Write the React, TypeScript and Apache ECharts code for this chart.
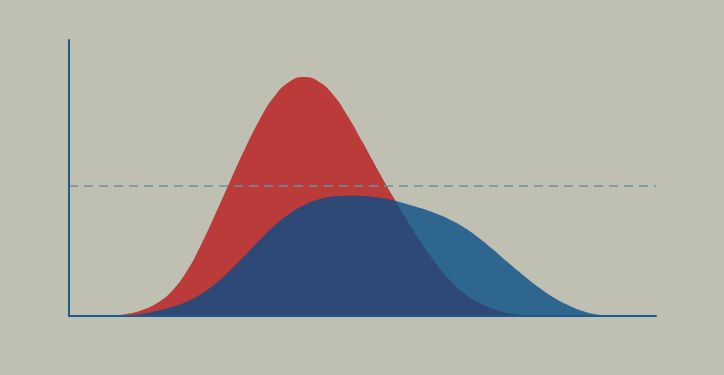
import React, { useEffect, useRef } from "react";
import * as echarts from "echarts";

// Red distribution: x positions and heights
const redX = [7.5, 10, 12.5, 15, 17.5, 20, 22.5, 25, 27.5, 30, 32.5, 35, 37.5, 40, 42.5, 45, 47.5, 50, 52.5, 55, 57.5, 60, 62.5, 65, 67.5, 70, 72.5, 75, 77.5, 80];
const redY = [0, 0.8, 2.2, 4.7, 9.0, 16.0, 25.8, 37.2, 49.1, 60.7, 71.2, 79.6, 84.8, 86.6, 85.0, 80.2, 72.4, 63.0, 53.3, 44.0, 35.0, 26.6, 19.0, 12.7, 7.9, 4.6, 2.4, 1.0, 0.3, 0];

// Blue distribution
const blueX = [7.5, 10, 12.5, 15, 17.5, 20, 22.5, 25, 27.5, 30, 32.5, 35, 37.5, 40, 42.5, 45, 47.5, 50, 52.5, 55, 57.5, 60, 62.5, 65, 67.5, 70, 72.5, 75, 77.5, 80, 82.5, 85, 87.5, 90, 92.5];
const blueY = [0, 0.2, 0.8, 1.9, 3.3, 5.2, 8.0, 11.8, 16.6, 22.0, 27.6, 32.8, 37.0, 40.1, 42.2, 43.3, 43.6, 43.5, 43.0, 42.0, 40.6, 39.0, 37.1, 34.8, 31.8, 28.0, 23.6, 19.0, 14.6, 10.4, 6.8, 4.0, 1.8, 0.5, 0];

const refLine = 47.1;

export default function App() {
  const ref = useRef<HTMLDivElement>(null);
  useEffect(() => {
    document.body.style.margin = "0";
    document.body.style.background = "#bfc0b2";
    const chart = echarts.init(ref.current!, null, { renderer: "svg" });
    const redData = redX.map((x, i) => [x, redY[i]]);
    const blueData = blueX.map((x, i) => [x, blueY[i]]);
    chart.setOption({
      animation: false,
      backgroundColor: "#bfc0b2",
      grid: { left: 69, right: 68, top: 40, bottom: 59 },
      xAxis: {
        type: "value",
        min: 0,
        max: 100,
        z: 10,
        axisLine: { show: true, lineStyle: { color: "#1f5a8e", width: 2 } },
        axisTick: { show: false },
        axisLabel: { show: false },
        splitLine: { show: false },
      },
      yAxis: {
        type: "value",
        min: 0,
        max: 100,
        z: 10,
        axisLine: { show: true, lineStyle: { color: "#1f5a8e", width: 2 } },
        axisTick: { show: false },
        axisLabel: { show: false },
        splitLine: { show: false },
      },
      series: [
        {
          type: "line",
          data: redData,
          smooth: 0.5,
          showSymbol: false,
          lineStyle: { width: 0 },
          areaStyle: { color: "#bb3a3a", opacity: 1 },
          z: 2,
        },
        {
          type: "line",
          data: blueData,
          smooth: 0.5,
          showSymbol: false,
          lineStyle: { width: 0 },
          areaStyle: { color: "rgb(8,77,135)", opacity: 0.79 },
          z: 3,
          markLine: {
            silent: true,
            symbol: "none",
            label: { show: false },
            lineStyle: { color: "#6f8da6", width: 1.5, type: [9, 6] },
            data: [{ yAxis: refLine }],
            z: 5,
          },
        },
      ],
    });
    return () => chart.dispose();
  }, []);
  return <div ref={ref} style={{ width: 724, height: 375 }} />;
}
